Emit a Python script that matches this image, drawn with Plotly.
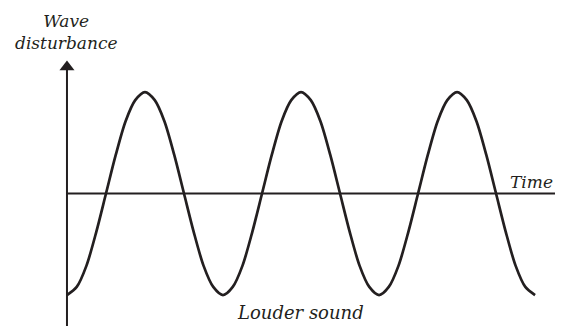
import plotly.graph_objects as go

# Wave: time in periods, disturbance relative to amplitude
time = [0, 0.0625, 0.125, 0.1875, 0.25, 0.3125, 0.375, 0.4375,
        0.5, 0.5625, 0.625, 0.6875, 0.75, 0.8125, 0.875, 0.9375,
        1, 1.0625, 1.125, 1.1875, 1.25, 1.3125, 1.375, 1.4375,
        1.5, 1.5625, 1.625, 1.6875, 1.75, 1.8125, 1.875, 1.9375,
        2, 2.0625, 2.125, 2.1875, 2.25, 2.3125, 2.375, 2.4375,
        2.5, 2.5625, 2.625, 2.6875, 2.75, 2.8125, 2.875, 2.9375, 3]
disturbance = [-1, -0.92, -0.71, -0.38, 0, 0.38, 0.71, 0.92,
               1, 0.92, 0.71, 0.38, 0, -0.38, -0.71, -0.92,
               -1, -0.92, -0.71, -0.38, 0, 0.38, 0.71, 0.92,
               1, 0.92, 0.71, 0.38, 0, -0.38, -0.71, -0.92,
               -1, -0.92, -0.71, -0.38, 0, 0.38, 0.71, 0.92,
               1, 0.92, 0.71, 0.38, 0, -0.38, -0.71, -0.92, -1]

y_label = 'Wave<br>disturbance'
x_label = 'Time'
caption = 'Louder sound'

ink = '#231f20'
serif = 'DejaVu Serif'

# axis ranges chosen so the canvas matches the original framing
x_range = [-0.378, 3.179]
y_range = [-1.305, 1.828]
arrow_y = 1.246

fig = go.Figure()

# the wave itself
fig.add_trace(go.Scatter(
    x=time, y=disturbance, mode='lines',
    line=dict(color=ink, width=2.7, shape='spline', smoothing=0.8),
    hoverinfo='skip', showlegend=False,
))

# time axis
fig.add_shape(type='line', x0=0, x1=3.16, y0=0, y1=0,
              line=dict(color=ink, width=2))
# disturbance axis
fig.add_shape(type='line', x0=0, x1=0, y0=y_range[0], y1=arrow_y,
              line=dict(color=ink, width=2))
# arrow head on the disturbance axis
fig.add_trace(go.Scatter(
    x=[0], y=[arrow_y], mode='markers',
    marker=dict(symbol='triangle-up', size=13, color=ink),
    hoverinfo='skip', showlegend=False,
))

fig.add_annotation(x=0, y=1.815, xanchor='center', yanchor='top',
                   text='<i>' + y_label + '</i>', showarrow=False,
                   font=dict(family=serif, size=17, color=ink), align='center')
fig.add_annotation(x=3.125, y=0.115, xanchor='right', yanchor='middle',
                   text='<i>' + x_label + '</i>', showarrow=False,
                   font=dict(family=serif, size=17, color=ink))
fig.add_annotation(x=1.494, y=-1.295, xanchor='center', yanchor='bottom',
                   text='<i>' + caption + '</i>', showarrow=False,
                   font=dict(family=serif, size=18, color=ink))

# page body keeps its default 8px margin, so the figure is 8px smaller
fig.update_layout(
    width=555, height=318,
    margin=dict(l=0, r=0, t=0, b=0),
    paper_bgcolor='white', plot_bgcolor='white',
    xaxis=dict(range=x_range, visible=False, fixedrange=True),
    yaxis=dict(range=y_range, visible=False, fixedrange=True),
)

fig.write_html('out.html')
